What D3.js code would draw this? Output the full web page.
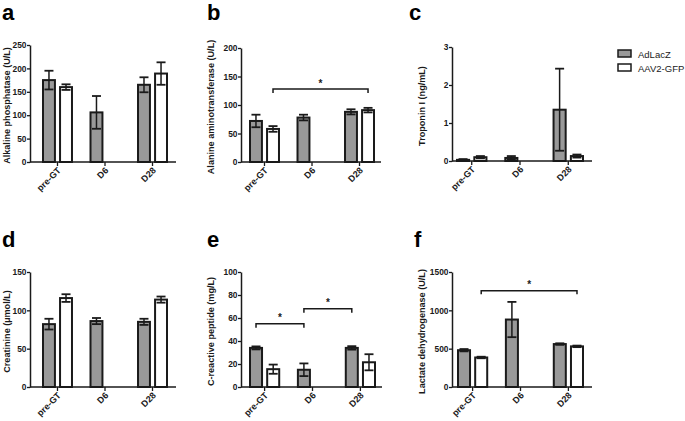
<!DOCTYPE html>
<html><head><meta charset="utf-8">
<script src="https://cdn.jsdelivr.net/npm/d3@7"></script>
<style>
body{margin:0;background:#fff;}
svg{display:block;font-family:"Liberation Sans",Arial,Helvetica,sans-serif;}
</style></head>
<body>
<svg id="chart" width="685" height="421"></svg>
<script>
// ---- data ----
const groups = ["pre-GT", "D6", "D28"];
const series = ["AdLacZ", "AAV2-GFP"];

const alpAd = [175, 106, 165], alpAdErr = [20, 35, 16];
const alpAav = [160, null, 189], alpAavErr = [6, null, 24];

const altAd = [72, 78, 88], altAdErr = [11, 5, 4.5];
const altAav = [58, null, 91], altAavErr = [5, null, 4];

const tnAd = [0.03, 0.08, 1.35], tnAdErr = [0.02, 0.05, 1.08];
const tnAav = [0.10, null, 0.13], tnAavErr = [0.03, null, 0.04];

const crAd = [82, 86, 85], crAdErr = [7, 4, 4];
const crAav = [116, null, 114], crAavErr = [5, null, 4];

const crpAd = [34, 15, 34], crpAdErr = [1.3, 5.5, 1.5];
const crpAav = [15.5, null, 21.5], crpAavErr = [4, null, 7];

const ldhAd = [480, 880, 560], ldhAdErr = [15, 230, 10];
const ldhAav = [385, null, 530], ldhAavErr = [10, null, 10];

const yTicksA = [0, 50, 100, 150, 200, 250];
const yTicksB = [0, 50, 100, 150, 200];
const yTicksC = [0, 1, 2, 3];
const yTicksD = [0, 50, 100, 150];
const yTicksE = [0, 20, 40, 60, 80, 100];
const yTicksF = [0, 500, 1000, 1500];

// significance brackets: [fromGroup, fromSeries, toGroup, toSeries, level, drop]
const sigB = [[0, 1, 2, 1, 128, 7]];
const sigE = [[0, 0, 1, 0, 55, 3.5], [1, 0, 2, 0, 68, 3.5]];
const sigF = [[0, 1, 2, 1, 1256, 45]];

// ---- layout ----
const panels = [
  {label:"a", title:"Alkaline phosphatase (U/L)", ad:alpAd, adE:alpAdErr, av:alpAav, avE:alpAavErr, ticks:yTicksA, sig:[],
   ax:30, axEnd:176, g0:43, g1:167, top:45, bot:162, lx:2, ly:20, tx:7},
  {label:"b", title:"Alanine aminotransferase (U/L)", ad:altAd, adE:altAdErr, av:altAav, avE:altAavErr, ticks:yTicksB, sig:sigB,
   ax:241, axEnd:381, g0:250, g1:374, top:48, bot:162, lx:207, ly:20, tx:211},
  {label:"c", title:"Troponin I (ng/mL)", ad:tnAd, adE:tnAdErr, av:tnAav, avE:tnAavErr, ticks:yTicksC, sig:[],
   ax:452, axEnd:592, g0:457, g1:583, top:47, bot:161, lx:409, ly:20, tx:422},
  {label:"d", title:"Creatinine (\u00b5mol/L)", ad:crAd, adE:crAdErr, av:crAav, avE:crAavErr, ticks:yTicksD, sig:[],
   ax:30, axEnd:176, g0:43, g1:167, top:272, bot:387, lx:2, ly:247, tx:7},
  {label:"e", title:"C-reactive peptide (mg/L)", ad:crpAd, adE:crpAdErr, av:crpAav, avE:crpAavErr, ticks:yTicksE, sig:sigE,
   ax:241, axEnd:382, g0:250, g1:375, top:272, bot:387, lx:207, ly:247, tx:211},
  {label:"f", title:"Lactate dehydrogenase (U/L)", ad:ldhAd, adE:ldhAdErr, av:ldhAav, avE:ldhAavErr, ticks:yTicksF, sig:sigF,
   ax:452, axEnd:592, g0:458, g1:583, top:272, bot:387, lx:414, ly:247, tx:422}
];

const fills = {"AdLacZ":"#999999", "AAV2-GFP":"#ffffff"};
const ink = "#1a1a1a";
const svg = d3.select("#chart");

panels.forEach(p => {
  const g = svg.append("g");
  const y = d3.scaleLinear().domain([d3.min(p.ticks), d3.max(p.ticks)]).range([p.bot, p.top]);
  const x0 = d3.scaleBand().domain(groups).range([p.g0, p.g1]).paddingInner(0.39).paddingOuter(0);
  const x1 = d3.scaleBand().domain(series).range([0, x0.bandwidth()]).paddingInner(0.3).paddingOuter(0);

  // panel label
  g.append("text").attr("x", p.lx).attr("y", p.ly).text(p.label)
    .attr("font-size", 22).attr("font-weight", "bold").attr("fill", "#000");

  // y axis title
  g.append("text")
    .attr("transform", `translate(${p.tx},${(p.top + p.bot) / 2 + 2}) rotate(-90)`)
    .attr("text-anchor", "middle").attr("dominant-baseline", "central")
    .attr("font-size", 9.1).attr("font-weight", "bold").attr("fill", ink)
    .text(p.title);

  // bars
  const rows = [];
  groups.forEach((grp, i) => {
    rows.push({grp, s: "AdLacZ", v: p.ad[i], e: p.adE[i]});
    rows.push({grp, s: "AAV2-GFP", v: p.av[i], e: p.avE[i]});
  });
  const valid = rows.filter(r => r.v != null);

  g.selectAll("rect.bar").data(valid).join("rect")
    .attr("x", d => x0(d.grp) + x1(d.s))
    .attr("y", d => y(d.v))
    .attr("width", x1.bandwidth())
    .attr("height", d => y(0) - y(d.v))
    .attr("fill", d => fills[d.s])
    .attr("stroke", ink).attr("stroke-width", 2);

  // error bars
  const cap = 4.5;
  valid.forEach(d => {
    const cx = x0(d.grp) + x1(d.s) + x1.bandwidth() / 2;
    const y1 = y(d.v + d.e), y2 = y(Math.max(0, d.v - d.e));
    g.append("line").attr("x1", cx).attr("x2", cx).attr("y1", y1).attr("y2", y2)
      .attr("stroke", ink).attr("stroke-width", 1.5);
    [y1, y2].forEach(yy => g.append("line").attr("x1", cx - cap).attr("x2", cx + cap)
      .attr("y1", yy).attr("y2", yy).attr("stroke", ink).attr("stroke-width", 1.8));
  });

  // y axis
  const yAxis = d3.axisLeft(y).tickValues(p.ticks).tickFormat(d3.format("d"))
    .tickSize(3).tickPadding(0.5).tickSizeOuter(0);
  const ya = g.append("g").attr("transform", `translate(${p.ax},0)`).call(yAxis);
  ya.select(".domain").attr("stroke", ink).attr("stroke-width", 1.5);
  ya.selectAll(".tick line").attr("stroke", ink).attr("stroke-width", 1.3);
  ya.selectAll(".tick text").attr("font-size", 8.4).attr("font-weight", "bold")
    .attr("fill", ink).attr("font-family", "'Liberation Sans',Arial,sans-serif");

  // x axis
  const xa = g.append("g");
  xa.append("line").attr("x1", p.ax).attr("x2", p.axEnd).attr("y1", p.bot).attr("y2", p.bot)
    .attr("stroke", ink).attr("stroke-width", 1.5);
  groups.forEach(grp => {
    const cx = x0(grp) + x0.bandwidth() / 2;
    xa.append("line").attr("x1", cx).attr("x2", cx).attr("y1", p.bot).attr("y2", p.bot + 4)
      .attr("stroke", ink).attr("stroke-width", 1.3);
    xa.append("text")
      .attr("transform", `translate(${cx + 4},${p.bot + 9}) rotate(-45)`)
      .attr("text-anchor", "end").attr("font-size", 9).attr("font-weight", "bold")
      .attr("fill", ink).text(grp);
  });

  // significance brackets
  p.sig.forEach(([ga, sa, gb, sb, lvl, drop]) => {
    const xa1 = x0(groups[ga]) + x1(series[sa]) + x1.bandwidth() / 2;
    const xb1 = x0(groups[gb]) + x1(series[sb]) + x1.bandwidth() / 2;
    const yl = y(lvl), yd = y(lvl - drop);
    g.append("path").attr("d", `M${xa1},${yd}V${yl}H${xb1}V${yd}`)
      .attr("fill", "none").attr("stroke", ink).attr("stroke-width", 1.5);
    g.append("text").attr("x", (xa1 + xb1) / 2).attr("y", yl - 2.5)
      .attr("text-anchor", "middle").attr("font-size", 10).attr("font-weight", "bold")
      .attr("fill", ink).text("*");
  });
});

// legend
const leg = svg.append("g").attr("transform", "translate(618,50)");
series.forEach((s, i) => {
  leg.append("rect").attr("x", 0).attr("y", i * 14).attr("width", 13).attr("height", 7)
    .attr("fill", fills[s]).attr("stroke", ink).attr("stroke-width", 1.5);
  leg.append("text").attr("x", 20).attr("y", i * 14 + 7.5).attr("font-size", 9.5)
    .attr("fill", ink).text(s);
});
</script>
</body></html>
